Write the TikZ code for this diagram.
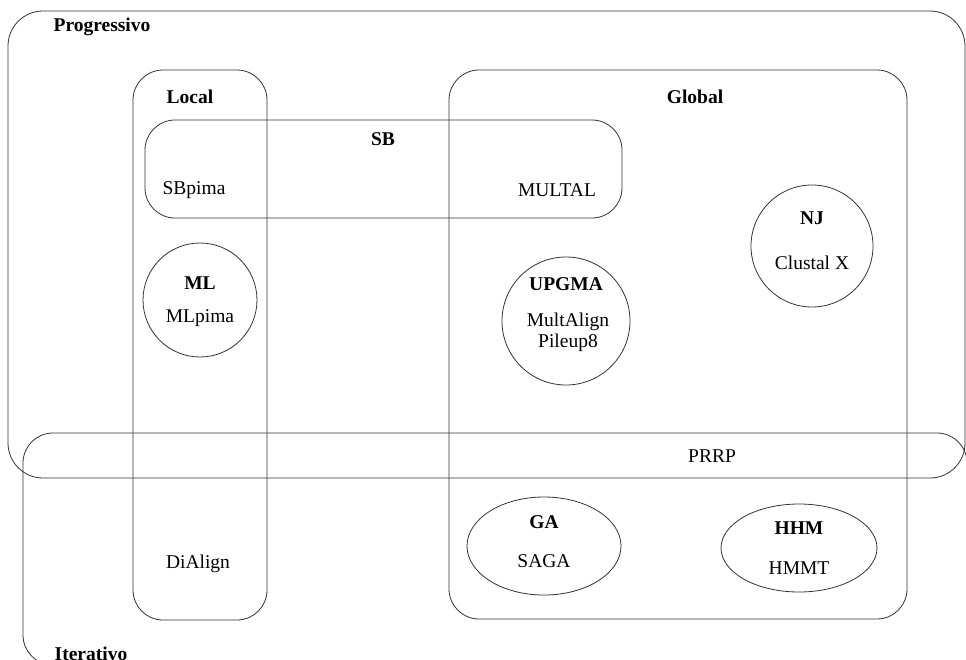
\documentclass[tikz,border=0pt]{standalone}
\usepackage{fontspec}
\setmainfont{Liberation Serif}
\begin{document}
\begin{tikzpicture}[x=1pt,y=-1pt,
  line/.style={draw=black!80,line width=0.8pt},
  lbl/.style={font=\fontsize{19.5}{21}\selectfont\bfseries,inner sep=0pt},
  txt/.style={font=\fontsize{19.5}{21}\selectfont,inner sep=0pt,align=center}]
\useasboundingbox (0,0) rectangle (966,659);
\clip (0,0) rectangle (966,659);
% regions
\draw[line,rounded corners=35pt] (8,11) rectangle (965,478);
\draw[line,rounded corners=30pt] (967,720) -- (967,433) -- (23,433) -- (23,665) -- (1000,665);
\draw[line,rounded corners=30pt] (133,70) rectangle (267,620);
\draw[line,rounded corners=30pt] (449,70) rectangle (907,619);
\draw[line,rounded corners=30pt] (145,120) rectangle (622,218);
% circles and ellipses
\draw[line] (200,300) circle[radius=57];
\draw[line] (566,321) circle[radius=64];
\draw[line] (812,246) circle[radius=61];
\draw[line] (544,546) ellipse[x radius=77,y radius=49];
\draw[line] (799,548) ellipse[x radius=78,y radius=44];
% labels
\node[lbl] (prog) at (102,27) {Progressivo};
\node[lbl,anchor=base] (iter) at (91,660) {Iterativo};
\node[lbl] (local) at (190,97) {Local};
\node[lbl] (global) at (695,97) {Global};
\node[lbl] (sb) at (383,139) {SB};
\node[txt] (sbpima) at (194,190) {SBpima};
\node[txt] (multal) at (557,190) {MULTAL};
\node[lbl] (ml) at (200,283) {ML};
\node[txt] (mlpima) at (200,318) {MLpima};
\node[lbl] (upgma) at (566,284) {UPGMA};
\node[txt] (multalign) at (568,332) {MultAlign\\Pileup8};
\node[lbl] (nj) at (812,218) {NJ};
\node[txt] (clustal) at (812,263) {Clustal X};
\node[txt] (prrp) at (712,456) {PRRP};
\node[txt] (dialign) at (198,564) {DiAlign};
\node[lbl] (ga) at (544,522) {GA};
\node[txt] (saga) at (544,561) {SAGA};
\node[lbl] (hhm) at (799,528) {HHM};
\node[txt] (hmmt) at (799,568) {HMMT};
\end{tikzpicture}
\end{document}
